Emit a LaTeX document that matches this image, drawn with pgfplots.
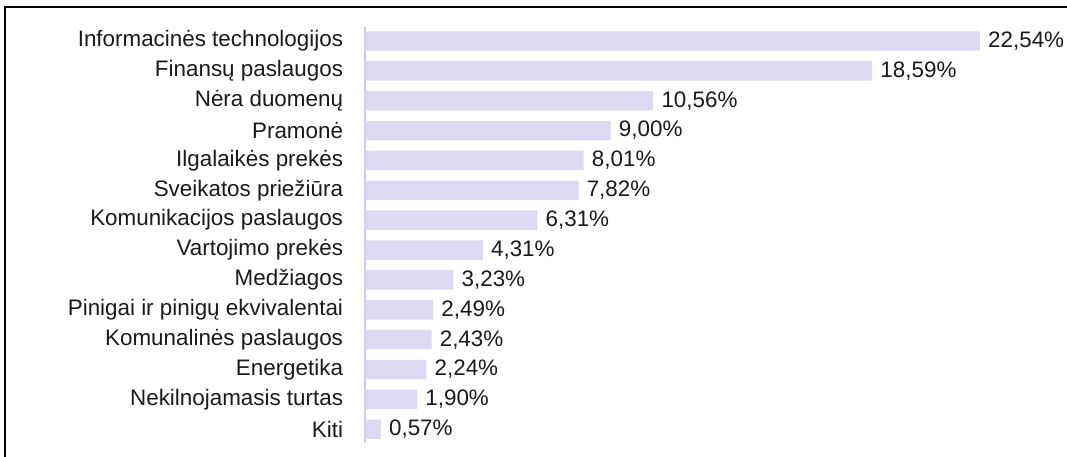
\documentclass[border=0pt]{standalone}
\usepackage{fontspec}
\setmainfont{Liberation Sans}
\usepackage{pgfplots}
\pgfplotsset{compat=1.18}
\definecolor{barcol}{HTML}{DCDAF2}
\definecolor{axcol}{HTML}{BFD0F0}
\definecolor{txt}{HTML}{1A1A1A}
\begin{document}
\fontsize{16.8}{19}\selectfont
\begin{tikzpicture}
\path[use as bounding box] (-273.98pt,-10.5pt) rectangle (526.3pt,332.25pt);
\draw[line width=1.6pt,black] (-270.2pt,-10.5pt) -- (-270.2pt,327pt) -- (526.3pt,327pt);
\begin{axis}[
  at={(0,0)}, anchor=south west,
  scale only axis,
  width=511.3pt, height=311.8pt,
  xbar, bar width=14.6pt,
  xmin=0, xmax=25,
  ymin=-0.46, ymax=13.46,
  y dir=reverse,
  axis x line=none,
  axis y line*=left,
  y axis line style={draw=axcol, line width=1.2pt, -},
  xtick=\empty,
  ytick={0,...,13},
  yticklabels={Informacinės technologijos, Finansų paslaugos, Nėra duomenų, Pramonė, Ilgalaikės prekės, Sveikatos priežiūra, Komunikacijos paslaugos, Vartojimo prekės, Medžiagos, Pinigai ir pinigų ekvivalentai, Komunalinės paslaugos, Energetika, Nekilnojamasis turtas, Kiti},
  major tick length=0pt,
  yticklabel style={font=\fontsize{16.8}{19}\selectfont, text=txt, anchor=east, inner sep=0pt, xshift=-16.5pt},
  /pgf/number format/assume math mode=true,
  nodes near coords={\pgfmathprintnumber[fixed,fixed zerofill,precision=2,use comma]{\pgfplotspointmeta}\%},
  every node near coord/.append style={font=\fontsize{16.8}{19}\selectfont, text=txt, anchor=west, inner sep=0pt, xshift=6pt},
]
\addplot[fill=barcol, draw=none] coordinates {
(22.54,0) (18.59,1) (10.56,2) (9.00,3) (8.01,4) (7.82,5) (6.31,6) (4.31,7) (3.23,8) (2.49,9) (2.43,10) (2.24,11) (1.90,12) (0.57,13)
};
\end{axis}
\end{tikzpicture}
\end{document}
